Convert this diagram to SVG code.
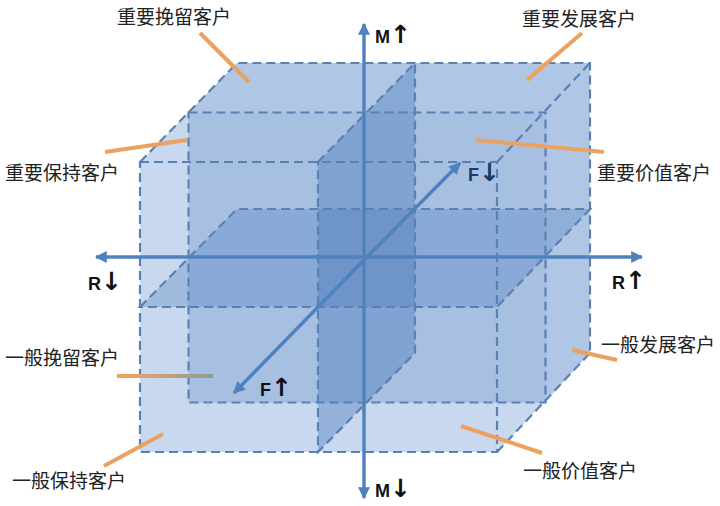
<svg xmlns="http://www.w3.org/2000/svg" width="720" height="506" viewBox="0 0 720 506">
<defs>
<style>
.edge{fill:none;stroke:#5a80b4;stroke-width:2.2;stroke-dasharray:9 5}
.axis{fill:none;stroke:#4f81bd;stroke-width:3.4}
.lead{fill:none;stroke:#eca25e;stroke-width:4;stroke-linecap:butt}
.cn{font-family:"Noto Sans CJK SC","Noto Sans",sans-serif;font-size:19px;fill:#222}
.ax{font-family:"Liberation Sans","DejaVu Sans",sans-serif;font-size:18px;font-weight:bold;fill:#111}
.ar{font-family:"DejaVu Sans",sans-serif;font-size:25px;font-weight:bold}
</style>
<marker id="arr" viewBox="0 0 10 10" refX="9" refY="5" markerWidth="12" markerHeight="12" markerUnits="userSpaceOnUse" orient="auto">
<path d="M0,0 L10,5 L0,10 Z" fill="#4f81bd"/>
</marker>
<linearGradient id="g5" x1="117" y1="0" x2="213" y2="0" gradientUnits="userSpaceOnUse">
<stop offset="0" stop-color="#eca25e"/>
<stop offset="0.3" stop-color="#dea072"/>
<stop offset="1" stop-color="#8d9c94"/>
</linearGradient>
</defs>
<rect width="720" height="506" fill="#ffffff"/>
<g id="cube">
<polygon points="140,162 237,63 590,63 590,353 497,452 140,452" fill="#c7d8ef"/>
<polygon points="188.5,112.5 237,63 590,63 590,353 545.5,402.5 188.5,402.5" fill="#4f81bd" fill-opacity="0.2"/>
<rect x="188.5" y="112.5" width="357" height="290" fill="#4f81bd" fill-opacity="0.08"/>
<polygon points="140,307 237,209 590,209 497,307" fill="#3c6eb4" fill-opacity="0.27"/>
<polygon points="318,162 415,63 415,353 318,452" fill="#3c6eb4" fill-opacity="0.35"/>
</g>
<g id="edges">
<path class="edge" d="M140,162 H497 V452 H140 Z"/>
<path class="edge" d="M140,162 L237,63 H590 V353"/>
<path class="edge" d="M497,162 L590,63"/>
<path class="edge" d="M497,452 L590,353"/>
<rect class="edge" x="188.5" y="112.5" width="357" height="290"/>
<path class="edge" d="M140,307 L237,209 H590 L497,307 Z"/>
<path class="edge" d="M318,162 L415,63 V353 L318,452 Z"/>
</g>
<g id="connectors">
<line class="axis" x1="364" y1="257" x2="364" y2="24" marker-end="url(#arr)"/>
<line class="axis" x1="364" y1="257" x2="364" y2="498" marker-end="url(#arr)"/>
<line class="axis" x1="364" y1="257" x2="96" y2="257" marker-end="url(#arr)"/>
<line class="axis" x1="364" y1="257" x2="642" y2="257" marker-end="url(#arr)"/>
<line class="axis" x1="365" y1="259" x2="460" y2="163" marker-end="url(#arr)"/>
<line class="axis" x1="365" y1="259" x2="234" y2="393" marker-end="url(#arr)"/>
<line class="lead" x1="200" y1="33" x2="249" y2="82"/>
<line class="lead" x1="105" y1="152" x2="187" y2="140"/>
<line class="lead" x1="582" y1="33" x2="527" y2="80"/>
<line class="lead" x1="476" y1="140" x2="604" y2="152"/>
<line class="lead" x1="117" y1="376" x2="213" y2="376" style="stroke:url(#g5)"/>
<line class="lead" x1="104" y1="466" x2="163" y2="434"/>
<line class="lead" x1="572" y1="350" x2="617" y2="360"/>
<line class="lead" x1="461" y1="426" x2="542" y2="453"/>
</g>
<g id="axis-labels">
<text class="ax" x="375" y="43">M<tspan class="ar">↑</tspan></text>
<text class="ax" x="375" y="497">M<tspan class="ar">↓</tspan></text>
<text class="ax" x="88" y="290">R<tspan class="ar">↓</tspan></text>
<text class="ax" x="612" y="289">R<tspan class="ar">↑</tspan></text>
<text class="ax" x="468" y="181" style="fill:#1b3a60">F<tspan class="ar">↓</tspan></text>
<text class="ax" x="260" y="396">F<tspan class="ar">↑</tspan></text>
</g>
<g id="node-zyWL"><text class="cn" x="117" y="24">重要挽留客户</text></g>
<g id="node-zyBC"><text class="cn" x="5" y="180">重要保持客户</text></g>
<g id="node-zyFZ"><text class="cn" x="522" y="26">重要发展客户</text></g>
<g id="node-zyJZ"><text class="cn" x="597" y="180">重要价值客户</text></g>
<g id="node-ybWL"><text class="cn" x="5" y="365">一般挽留客户</text></g>
<g id="node-ybBC"><text class="cn" x="12" y="488">一般保持客户</text></g>
<g id="node-ybFZ"><text class="cn" x="601" y="352">一般发展客户</text></g>
<g id="node-ybJZ"><text class="cn" x="523" y="478">一般价值客户</text></g>
</svg>
